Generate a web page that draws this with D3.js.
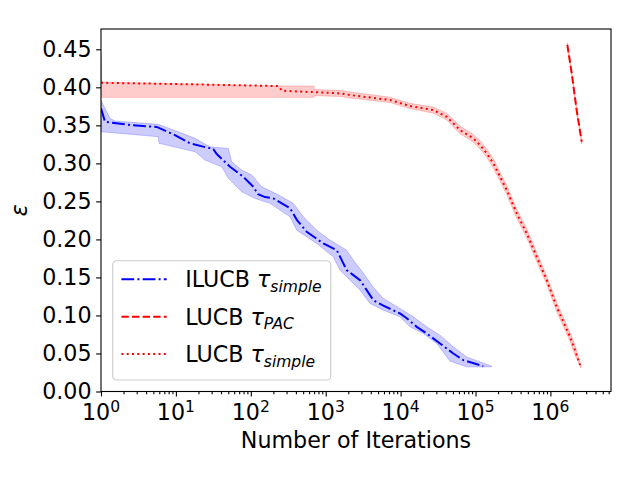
<!DOCTYPE html>
<html>
<head>
<meta charset="utf-8">
<script src="https://cdn.jsdelivr.net/npm/d3@7"></script>
<style>
  body { margin: 0; background: #fff; }
  text { font-family: 'DejaVu Sans', sans-serif; }
</style>
</head>
<body>
<div id="chart"></div>
<script>
// ILUCB tau_simple (mean line + band)
const blueX = [1, 1.13, 2.44, 5.54, 9.7, 15.4, 24.5, 31.6, 35.1, 52.8, 79.4, 108, 125, 155, 200, 334, 414, 557, 929, 1403, 1636, 1906, 2337, 2871, 3525, 4322, 5878, 9818, 12060, 16400, 22300, 33560, 50570, 68750, 127000];
const blueY = [0.3724, 0.3547, 0.3504, 0.3479, 0.3372, 0.3263, 0.3214, 0.3188, 0.3122, 0.2955, 0.2824, 0.2692, 0.2596, 0.2557, 0.2539, 0.2412, 0.2254, 0.2100, 0.1947, 0.1859, 0.1728, 0.1596, 0.1530, 0.1464, 0.1333, 0.1201, 0.1129, 0.1026, 0.0964, 0.0850, 0.0763, 0.0632, 0.0500, 0.0412, 0.0333];
const blueUpX = [1, 1.19, 1.32, 1.54, 5.82, 7.15, 18.0, 28.5, 50.1, 55.6, 75.6, 103, 140, 222, 369, 502, 758, 1141, 1906, 2337, 3178, 4322, 5878, 9818, 14790, 22300, 33560, 50570, 76320, 164400];
const blueUpY = [0.383, 0.3679, 0.3592, 0.3557, 0.3513, 0.3482, 0.3329, 0.3218, 0.3197, 0.3021, 0.2912, 0.2846, 0.2692, 0.2596, 0.2474, 0.2297, 0.2122, 0.1991, 0.1859, 0.1728, 0.1557, 0.1372, 0.1224, 0.1092, 0.0982, 0.0850, 0.0741, 0.0587, 0.0455, 0.0333];
const blueLoX = [1, 5.82, 5.95, 18.0, 24.5, 40.9, 50.1, 75.6, 114, 180, 334, 410, 758, 1262, 1552, 2110, 2871, 3902, 5878, 9818, 13340, 20090, 30340, 45700, 76320, 164400];
const blueLoY = [0.3416, 0.3350, 0.3263, 0.3153, 0.3043, 0.2955, 0.2803, 0.2626, 0.2539, 0.2474, 0.2297, 0.2122, 0.1947, 0.1771, 0.1596, 0.1464, 0.1333, 0.1158, 0.1070, 0.0982, 0.0850, 0.0763, 0.0632, 0.0399, 0.0324, 0.0324];

// LUCB tau_PAC
const pacX = [1683000, 1925000, 2244000, 2618000];
const pacY = [0.4557, 0.4184, 0.3696, 0.3284];
const pacHi = [0.4587, 0.4214, 0.3726, 0.3314];
const pacLo = [0.4527, 0.4154, 0.3666, 0.3254];

// LUCB tau_simple
const redX = [1, 15, 231, 261, 1552, 2110, 7211, 13340, 27350, 41250, 62100, 93500, 114800, 141200, 173000, 261000, 355000, 483000, 656000, 893000, 1214000, 1828000, 2130000, 2483000];
const redY = [0.406, 0.404, 0.4017, 0.3955, 0.3921, 0.3899, 0.3833, 0.3754, 0.3701, 0.3613, 0.3438, 0.3329, 0.3241, 0.3132, 0.300, 0.2649, 0.2342, 0.2079, 0.1771, 0.1464, 0.1113, 0.0718, 0.0543, 0.0346];
const redBandX = [1, 1.02, 231, 700, 705, 1552, 2110, 7211, 13340, 27350, 41250, 62100, 93500, 114800, 141200, 173000, 261000, 355000, 483000, 656000, 893000, 1214000, 1828000, 2130000, 2560000];
const redHi = [0.447, 0.407, 0.4017, 0.4017, 0.397, 0.396, 0.394, 0.387, 0.379, 0.374, 0.366, 0.349, 0.338, 0.330, 0.319, 0.306, 0.271, 0.240, 0.214, 0.183, 0.152, 0.117, 0.078, 0.061, 0.034];
const redLo = [0.3868, 0.3868, 0.3868, 0.3868, 0.389, 0.388, 0.386, 0.380, 0.372, 0.366, 0.357, 0.339, 0.328, 0.319, 0.308, 0.294, 0.259, 0.228, 0.202, 0.171, 0.141, 0.105, 0.066, 0.048, 0.031];

const yTicks = [0, 0.05, 0.1, 0.15, 0.2, 0.25, 0.3, 0.35, 0.4, 0.45];
const xTicks = [0, 1, 2, 3, 4, 5, 6];
const legendLabels = [
  { name: 'ILUCB ', sub: 'simple' },
  { name: 'LUCB ', sub: 'PAC' },
  { name: 'LUCB ', sub: 'simple' },
];

const margin = { top: 29, left: 101, right: 29, bottom: 88.5 };
const width = 640 - margin.left - margin.right;
const height = 480 - margin.top - margin.bottom;
const fs = 22.2;

const svg = d3
  .select('#chart')
  .append('svg')
  .attr('width', 640)
  .attr('height', 480);

svg.append('defs').append('clipPath').attr('id', 'clip')
  .append('rect').attr('width', width).attr('height', height);

const container = svg.append('g').attr('transform', `translate(${margin.left}, ${margin.top})`);

const x = d3.scaleLog().domain([1, 6.44e6]).range([0, width]);
const y = d3.scaleLinear().domain([0, 0.4767]).range([height, 0]);

const plot = container.append('g').attr('clip-path', 'url(#clip)');

const line = d3.line().x((d) => x(d[0])).y((d) => y(d[1]));
const zip = (a, b) => a.map((v, i) => [v, b[i]]);

function band(upX, upY, loX, loY, color) {
  const pts = zip(upX, upY).concat(zip(loX, loY).reverse());
  plot.append('path')
    .attr('d', line(pts) + 'Z')
    .attr('fill', color)
    .attr('stroke', color)
    .attr('stroke-width', 1);
}

band(blueUpX, blueUpY, blueLoX, blueLoY, 'rgba(0,0,255,0.2)');
band(redBandX, redHi, redBandX, redLo, 'rgba(255,0,0,0.2)');
band(pacX, pacHi, pacX, pacLo, 'rgba(255,0,0,0.2)');

const styles = [
  { color: '#0000ff', dash: '12.8,3.2,2,3.2' },
  { color: '#ff0000', dash: '7.4,3.2' },
  { color: '#ff0000', dash: '2,3.3' },
];

plot.append('path').attr('d', line(zip(blueX, blueY)))
  .attr('fill', 'none').attr('stroke', styles[0].color).attr('stroke-width', 2)
  .attr('stroke-dasharray', styles[0].dash);
plot.append('path').attr('d', line(zip(pacX, pacY)))
  .attr('fill', 'none').attr('stroke', styles[1].color).attr('stroke-width', 2)
  .attr('stroke-dasharray', styles[1].dash);
plot.append('path').attr('d', line(zip(redX, redY)))
  .attr('fill', 'none').attr('stroke', styles[2].color).attr('stroke-width', 2)
  .attr('stroke-dasharray', styles[2].dash);

// axes
const yAxis = container.append('g')
  .call(d3.axisLeft(y).tickValues(yTicks).tickFormat(d3.format('.2f')).tickSize(4.9).tickPadding(4.5));
const xAxis = container.append('g')
  .attr('transform', `translate(0, ${height})`)
  .call(d3.axisBottom(x).tickValues(xTicks.map((p) => Math.pow(10, p))).tickFormat('').tickSize(4.9));

const minor = [];
for (let p = 0; p <= 6; p++) {
  for (let m = 2; m <= 9; m++) {
    if (m * Math.pow(10, p) < 6.44e6) minor.push(m * Math.pow(10, p));
  }
}
container.append('g')
  .attr('transform', `translate(0, ${height})`)
  .call(d3.axisBottom(x).tickValues(minor).tickFormat('').tickSize(2.8))
  .call((g) => g.select('.domain').remove());

svg.selectAll('.tick line').attr('stroke', '#000').attr('stroke-width', 1.1);
yAxis.selectAll('.tick text').attr('font-size', fs).attr('fill', '#000').attr('font-family', 'DejaVu Sans');
yAxis.select('.domain').remove();
xAxis.select('.domain').remove();

container.append('rect')
  .attr('width', width).attr('height', height)
  .attr('fill', 'none').attr('stroke', '#000').attr('stroke-width', 1.1);

const xLabels = container.selectAll('.xlab').data(xTicks).enter()
  .append('text')
  .attr('x', (d) => x(Math.pow(10, d)))
  .attr('y', height + 28.5)
  .attr('text-anchor', 'middle')
  .attr('font-size', fs);
xLabels.append('tspan').text('10');
xLabels.append('tspan').attr('font-size', fs * 0.7).attr('dy', -8.5).text((d) => d);

container.append('text')
  .attr('x', width / 2)
  .attr('y', height + 56.5)
  .attr('text-anchor', 'middle')
  .attr('font-size', fs)
  .text('Number of Iterations');

svg.append('text')
  .attr('transform', `translate(27, ${margin.top + height / 2}) rotate(-90)`)
  .attr('text-anchor', 'middle')
  .attr('font-size', fs)
  .attr('font-style', 'italic')
  .text('ε');

// legend
const legend = container.append('g').attr('transform', 'translate(11.7, 231.7)');
legend.append('rect')
  .attr('width', 218).attr('height', 119.3)
  .attr('rx', 4).attr('ry', 4)
  .attr('fill', 'rgba(255,255,255,0.8)')
  .attr('stroke', '#cccccc').attr('stroke-width', 1.1);

legendLabels.forEach((d, i) => {
  const ly = 18.6 + i * 37.4;
  legend.append('line')
    .attr('x1', 8.7).attr('x2', 54).attr('y1', ly).attr('y2', ly)
    .attr('stroke', styles[i].color).attr('stroke-width', 2)
    .attr('stroke-dasharray', styles[i].dash);
  const t = legend.append('text')
    .attr('x', 72.5).attr('y', ly + 8)
    .attr('font-size', fs);
  t.append('tspan').text(d.name);
  t.append('tspan').attr('font-style', 'italic').text('τ');
  t.append('tspan').attr('font-style', 'italic').attr('font-size', fs * 0.7).attr('dy', 4.5).text(d.sub);
});
</script>
</body>
</html>
